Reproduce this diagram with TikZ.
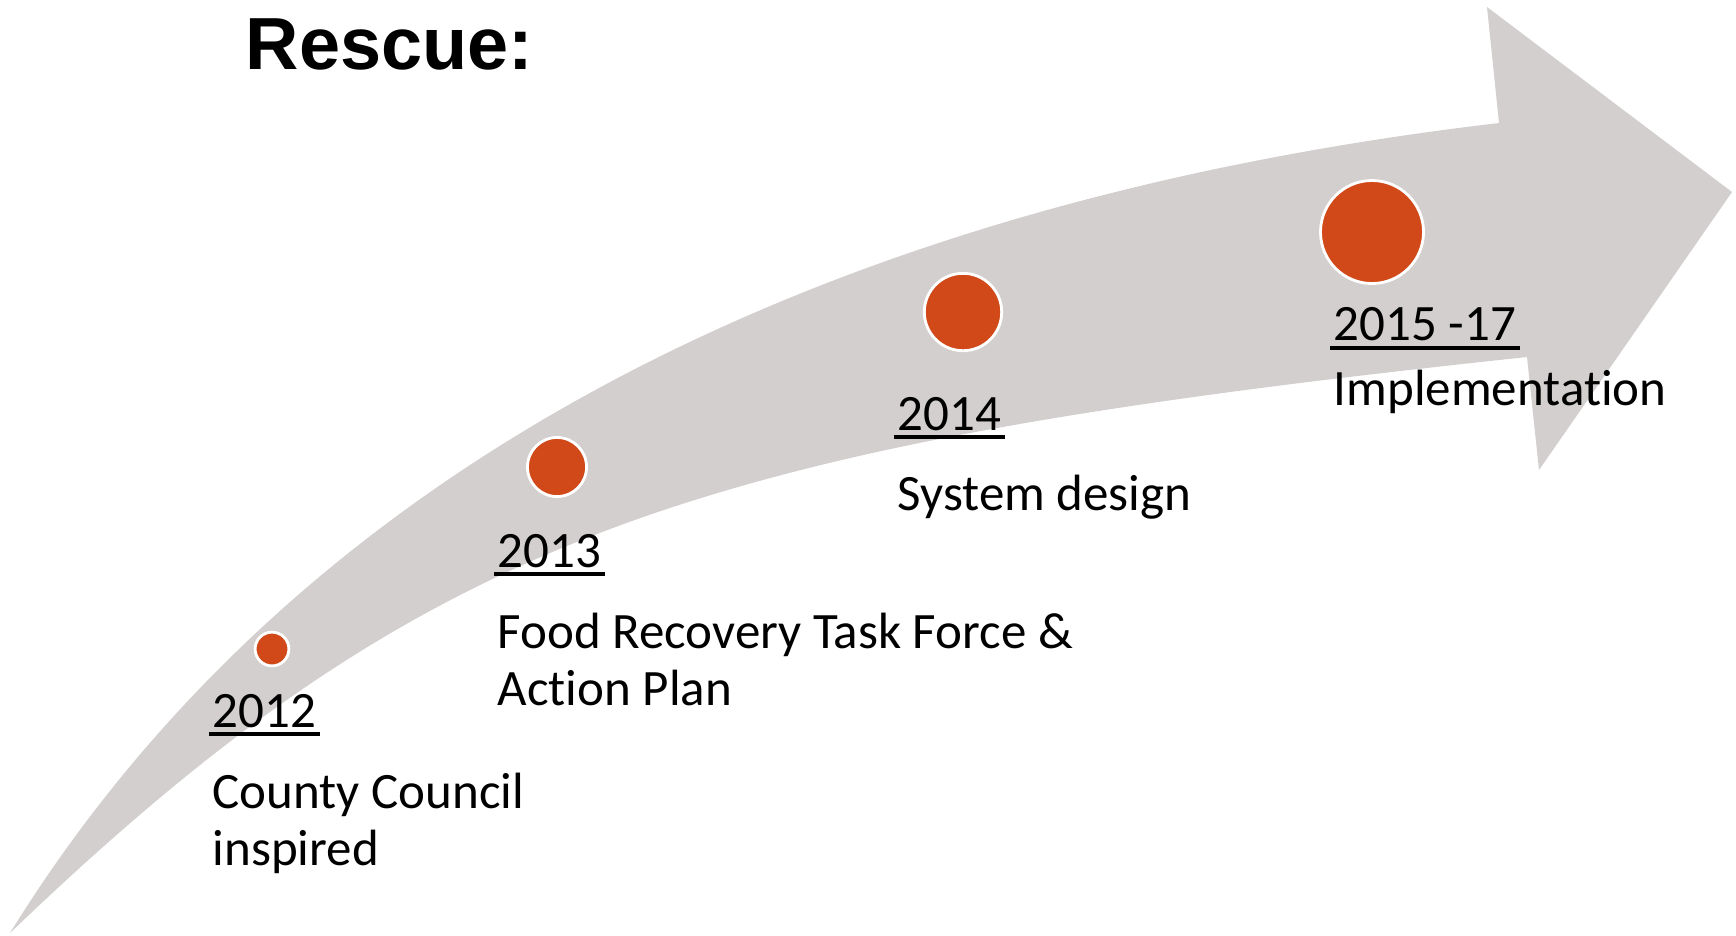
\documentclass[tikz,border=0pt]{standalone}
\usepackage{fontspec}
\setmainfont{Carlito}[Ligatures=NoCommon]
\newfontfamily\titlefont{Liberation Sans}
\usepackage{xcolor}
\usepackage{tikz}
\definecolor{bandgray}{RGB}{210,207,206}
\definecolor{rescueorange}{RGB}{209,73,24}

\begin{document}
\begin{tikzpicture}[x=0.01cm,y=-0.01cm,
	dot/.style={circle,fill=rescueorange,draw=white,line width=0.8pt,inner sep=0pt},
	year/.style={anchor=base west,inner sep=0pt},
	desc/.style={anchor=base west,inner sep=0pt,align=left},
	uline/.style={line width=1pt},
	every node/.style={font=\fontsize{14.5}{16.2}\selectfont}]
	\useasboundingbox (0,0) rectangle (1736,935);

	\fill [bandgray] (10,933) .. controls (290,480) and (800,205) .. (1499,123)
		-- (1487,7) -- (1732,192) -- (1539,470) -- (1527,357)
		.. controls (700,445) and (430,530) .. (10,933) -- cycle;

	\node [anchor=base west,inner sep=0pt,font=\titlefont\bfseries\fontsize{21}{24}\selectfont] at (245,69) (title) {Rescue:};

	\node [dot,minimum size=9.6pt] at (272,649) (d12) {};
	\node [dot,minimum size=16.8pt] at (557,467) (d13) {};
	\node [dot,minimum size=22pt] at (963,312) (d14) {};
	\node [dot,minimum size=29.3pt] at (1372,232) (d15) {};

	\node [year] at (212,727) (y12) {2012};
	\node [year] at (497,567) (y13) {2013};
	\node [year] at (897,430) (y14) {2014};
	\node [year] at (1333,340) (y15) {2015 -17};

	\draw [uline] ([shift={(-3,7)}]y12.base west) -- ([shift={(3,7)}]y12.base east);
	\draw [uline] ([shift={(-3,7)}]y13.base west) -- ([shift={(3,7)}]y13.base east);
	\draw [uline] ([shift={(-3,7)}]y14.base west) -- ([shift={(3,7)}]y14.base east);
	\draw [uline] ([shift={(-3,8)}]y15.base west) -- ([shift={(3,8)}]y15.base east);

	\node [desc] at (212,865) (t12) {County Council\\inspired};
	\node [desc] at (497,705) (t13) {Food Recovery Task Force \&\\Action Plan};
	\node [desc] at (897,510) (t14) {System design};
	\node [desc] at (1333,405) (t15) {Implementation};
\end{tikzpicture}
\end{document}
